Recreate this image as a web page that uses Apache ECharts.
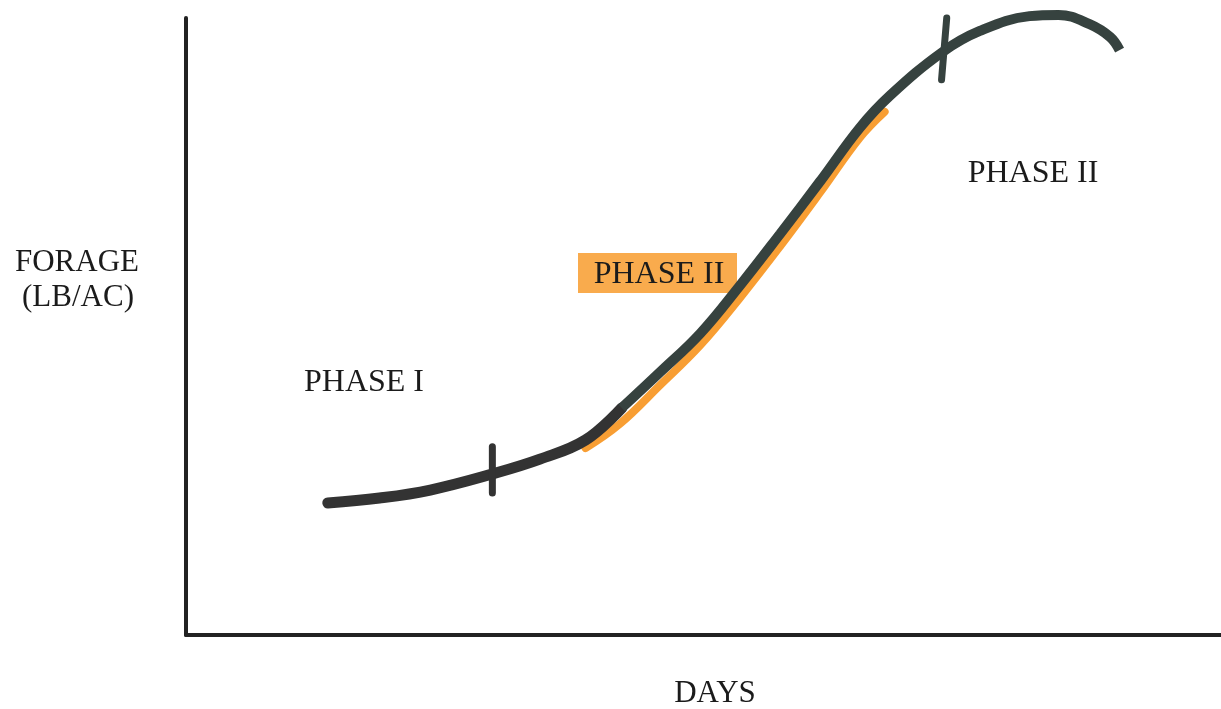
<!DOCTYPE html>
<html>
<head>
<meta charset="utf-8">
<script src="https://cdn.jsdelivr.net/npm/echarts@6/dist/echarts.min.js"></script>
<style>
  html, body { margin: 0; padding: 0; background: #ffffff; }
  #chart { width: 1221px; height: 709px; }
</style>
</head>
<body>
<div id="chart"></div>
<script>
// Growth curve (days 0-100, forage 0-100, relative units)
var phase1Curve = [[13.7,21.4],[18.7,22.2],[23.6,23.5],[29.6,26.1],[34.2,28.5],[38.6,31.6],[42.1,36.8]];
var phase2Curve = [[42.1,36.8],[45.8,42.6],[49.7,48.9],[53.5,56.6],[57.4,65.0],[61.3,73.6],[65.1,82.2],[68.0,87.4],[73.1,94.5],[76.7,97.9],[81.5,100.3],[84.3,100.5],[87.3,99.0],[89.3,96.9],[90.2,94.8]];
var highlightCurve = [[38.6,30.3],[41.9,34.2],[45.8,40.5],[49.7,47.0],[53.5,54.6],[57.4,63.0],[61.3,71.8],[65.1,80.6],[67.5,84.8]];
var tick1 = [[29.6,30.5],[29.6,23.0]];
var tick2 = [[73.5,100],[73.0,90.0]];

var yTitleLines = ['FORAGE', '(LB/AC)'];
var xTitle = 'DAYS';
var phaseLabels = ['PHASE I', 'PHASE II', 'PHASE II'];

var chart = echarts.init(document.getElementById('chart'));
var fontFam = '"Liberation Serif", "DejaVu Serif", serif';
var txtColor = '#1b1b1b';

chart.setOption({
  backgroundColor: '#ffffff',
  animation: false,
  grid: { left: 186, right: 0, top: 18, bottom: 74, containLabel: false },
  xAxis: {
    type: 'value', min: 0, max: 100,
    axisLine: { show: true, onZero: false, lineStyle: { color: '#222', width: 4 } },
    axisTick: { show: false }, axisLabel: { show: false }, splitLine: { show: false }
  },
  yAxis: {
    type: 'value', min: 0, max: 100,
    axisLine: { show: true, onZero: false, lineStyle: { color: '#222', width: 4 } },
    axisTick: { show: false }, axisLabel: { show: false }, splitLine: { show: false }
  },
  graphic: [
    { type: 'text', x: 77, y: 263, style: { text: yTitleLines[0], font: '31px ' + fontFam, fill: txtColor, align: 'center', verticalAlign: 'middle' } },
    { type: 'text', x: 78, y: 298, style: { text: yTitleLines[1], font: '31px ' + fontFam, fill: txtColor, align: 'center', verticalAlign: 'middle' } },
    { type: 'text', x: 715, y: 694, style: { text: xTitle, font: '31px ' + fontFam, fill: txtColor, align: 'center', verticalAlign: 'middle' } },
    { type: 'text', x: 364, y: 383, style: { text: phaseLabels[0], font: '32px ' + fontFam, fill: txtColor, align: 'center', verticalAlign: 'middle' } },
    { type: 'rect', shape: { x: 578, y: 253, width: 159, height: 40 }, style: { fill: '#f8a43e', opacity: 0.92 } },
    { type: 'text', x: 659, y: 275, style: { text: phaseLabels[1], font: '32px ' + fontFam, fill: txtColor, align: 'center', verticalAlign: 'middle' } },
    { type: 'text', x: 1033, y: 174, style: { text: phaseLabels[2], font: '32px ' + fontFam, fill: txtColor, align: 'center', verticalAlign: 'middle' } }
  ],
  series: [
    { type: 'line', data: highlightCurve, smooth: 0.4, showSymbol: false, clip: false, z: 2,
      lineStyle: { color: '#f7941d', width: 8, cap: 'round', opacity: 0.9 } },
    { type: 'line', data: phase1Curve, smooth: 0.4, showSymbol: false, clip: false, z: 3,
      lineStyle: { color: '#333333', width: 11, cap: 'round' } },
    { type: 'line', data: phase2Curve, smooth: 0.4, showSymbol: false, clip: false, z: 3,
      lineStyle: { color: '#36423f', width: 10, cap: 'butt' } },
    { type: 'line', data: tick1, showSymbol: false, clip: false, z: 4,
      lineStyle: { color: '#333333', width: 7, cap: 'round' } },
    { type: 'line', data: tick2, showSymbol: false, clip: false, z: 4,
      lineStyle: { color: '#36423f', width: 7, cap: 'round' } }
  ]
});
</script>
</body>
</html>
